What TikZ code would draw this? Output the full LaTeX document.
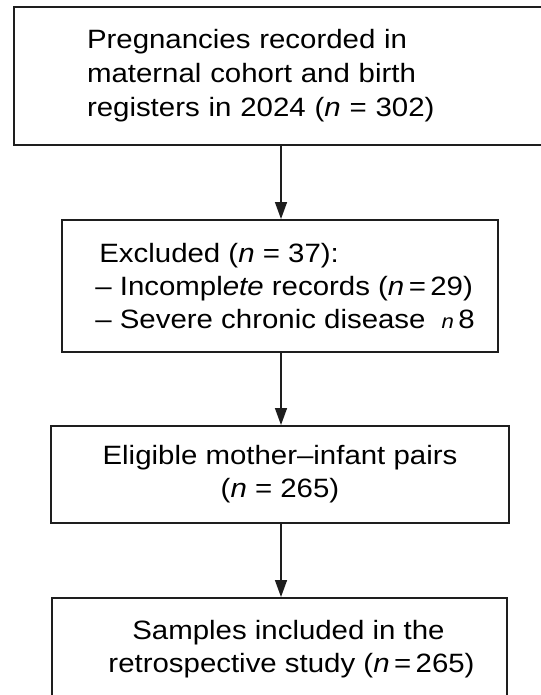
\documentclass[tikz,border=0pt]{standalone}
\usepackage{fontspec}
\setmainfont{Liberation Sans}[FakeStretch=1.11]
\usetikzlibrary{arrows.meta}
\definecolor{edge}{HTML}{1E1E1E}

\begin{document}
\begin{tikzpicture}[
    x=1pt, y=-1pt,
    box/.style={
        draw=edge,
        line width=2pt,
        inner sep=0pt,
        font=\fontsize{26.5}{33}\selectfont,
    },
    flowarrow/.style={
        edge,
        line width=1.5pt,
        -{Triangle[length=17pt, width=12pt]},
    },
]
\useasboundingbox[fill=white] (0,0) rectangle (540,695);

% =============================================
% BOXES (top to bottom)
% =============================================
% Records
\node[box, text width=388pt, inner xsep=73pt, minimum height=138pt, align=left,
      font=\fontsize{26.5}{34}\selectfont] (pregnancies) at (281,76) {%
  Pregnancies recorded in\\
  maternal cohort and birth\\
  registers in 2024 (\textit{n} = 302)%
};

% Exclusions
\node[box, minimum width=436pt, minimum height=132pt, align=left] (excluded) at (280,286) {%
  \hspace*{14pt}Excluded (\textit{n} = 37):\\
  \hspace*{10pt}-- Incompl\textit{ete} records (\textit{n}\,=\,29)\\
  \hspace*{10pt}-- Severe chronic disease\hspace{0.6em}{\fontsize{20}{20}\selectfont\textit{n}}\,8%
};

% Eligible pairs
\node[box, minimum width=458pt, minimum height=97pt, align=center] (eligible) at (280,474.5) {%
  Eligible mother--infant pairs\\
  (\textit{n} = 265)%
};

% Final sample (runs off the bottom edge)
\node[box, minimum width=455pt, minimum height=102pt, anchor=north, align=center] (samples) at (279.5,597) {%
  \hspace*{18pt}Samples included in the\\
  \hspace*{24pt}retrospective study (\textit{n}\,=\,265)%
};

% =============================================
% ARROWS
% =============================================
\draw[flowarrow] (pregnancies.south) -- (pregnancies.south |- excluded.north);
\draw[flowarrow] (pregnancies.south |- excluded.south) -- (pregnancies.south |- eligible.north);
\draw[flowarrow] (pregnancies.south |- eligible.south) -- (pregnancies.south |- samples.north);

\end{tikzpicture}
\end{document}
